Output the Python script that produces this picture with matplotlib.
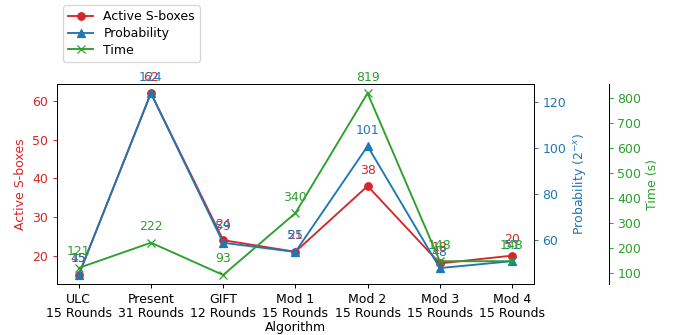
import matplotlib
matplotlib.use('Agg')
import matplotlib.pyplot as plt
from matplotlib.ticker import MultipleLocator

# data
algorithms = ['ULC\n15 Rounds', 'Present\n31 Rounds', 'GIFT\n12 Rounds', 'Mod 1\n15 Rounds',
              'Mod 2\n15 Rounds', 'Mod 3\n15 Rounds', 'Mod 4\n15 Rounds']
active_sboxes = [15, 62, 24, 21, 38, 18, 20]
probability = [45, 124, 59, 55, 101, 48, 51]
time_s = [121, 222, 93, 340, 819, 148, 148]

DPI = 90
fig = plt.figure(figsize=(679 / DPI, 335 / DPI), dpi=DPI)
ax = fig.add_axes([0.084, 0.152, 0.702, 0.597])
par1 = ax.twinx()
par2 = ax.twinx()
par2.spines['right'].set_position(('axes', 1.157))

x = range(len(algorithms))
l1, = ax.plot(x, active_sboxes, color='tab:red', marker='o', label='Active S-boxes')
l2, = par1.plot(x, probability, color='tab:blue', marker='^', label='Probability')
l3, = par2.plot(x, time_s, color='tab:green', marker='x', label='Time')

# value labels above each point
for axis, vals, col in [(ax, active_sboxes, 'tab:red'), (par1, probability, 'tab:blue'),
                        (par2, time_s, 'tab:green')]:
    for i, v in enumerate(vals):
        axis.annotate(str(v), (i, v), textcoords='offset points', xytext=(0, 10),
                      ha='center', color=col)

ax.set_xticks(list(x))
ax.set_xticklabels(algorithms, linespacing=1.1)
ax.set_xlabel('Algorithm', labelpad=1)
ax.set_ylabel('Active S-boxes', color='tab:red')
par1.set_ylabel('Probability ($2^{-x}$)', color='tab:blue')
par2.set_ylabel('Time (s)', color='tab:green')
par2.yaxis.set_major_locator(MultipleLocator(100))
ax.tick_params(axis='y', colors='tab:red')
par1.tick_params(axis='y', colors='tab:blue')
par2.tick_params(axis='y', colors='tab:green')
for a in (ax, par1, par2):
    for s in a.spines.values():
        s.set_color('black')

ax.legend([l1, l2, l3], [l.get_label() for l in (l1, l2, l3)],
          loc='lower left', bbox_to_anchor=(0, 1.08), labelspacing=0.3)

fig.savefig('out.png', dpi=DPI)
